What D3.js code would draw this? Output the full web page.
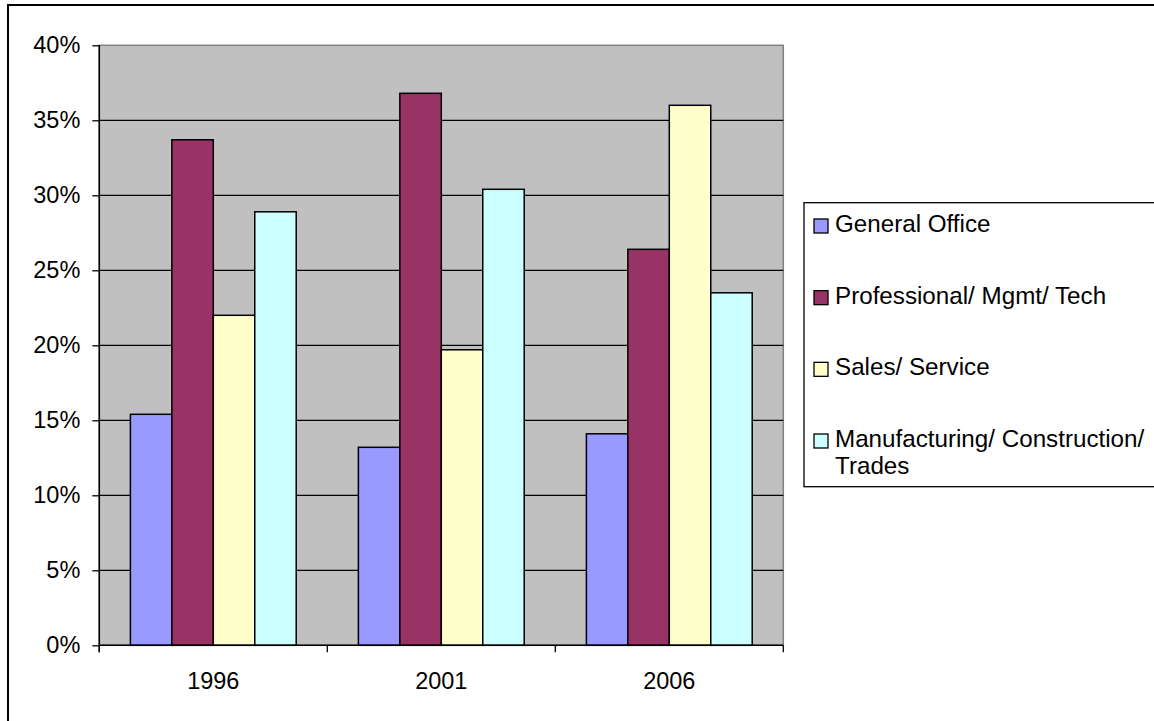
<!DOCTYPE html>
<html>
<head>
<meta charset="utf-8">
<script src="https://cdn.jsdelivr.net/npm/d3@7"></script>
<style>
  html, body { margin: 0; padding: 0; background: #ffffff; }
  svg { display: block; }
  text { font-family: "Liberation Sans", Arial, sans-serif; fill: #000; }
</style>
</head>
<body>
<svg id="chart" width="1154" height="721"></svg>
<script>
// Occupation shares by census year
const years = ["1996", "2001", "2006"];
const seriesNames = [
  "General Office",
  "Professional/ Mgmt/ Tech",
  "Sales/ Service",
  "Manufacturing/ Construction/ Trades"
];
const generalOffice = [15.4, 13.2, 14.1];
const professional = [33.7, 36.8, 26.4];
const salesService = [22.0, 19.7, 36.0];
const manufacturing = [28.9, 30.4, 23.5];
const yTicks = [0, 5, 10, 15, 20, 25, 30, 35, 40];
const seriesColors = ["#9999FF", "#993366", "#FFFFCC", "#CCFFFF"];

const seriesValues = [generalOffice, professional, salesService, manufacturing];

const svg = d3.select("#chart");
const axisFontSize = 23.5;
const legendFontSize = 24.2;

// Chart frame
svg.append("rect")
  .attr("x", 8).attr("y", 5)
  .attr("width", 1200).attr("height", 800)
  .attr("fill", "#fff")
  .attr("stroke", "#000")
  .attr("stroke-width", 2);

// Plot area
const plot = { left: 99.3, right: 783.3, top: 45.3, bottom: 645.3 };

const x = d3.scaleBand().domain(years).range([plot.left, plot.right]).padding(0);
const xInner = d3.scaleBand().domain(d3.range(seriesNames.length))
  .range([0, x.bandwidth()]).paddingInner(0).paddingOuter(0.75);
const y = d3.scaleLinear().domain([0, 40]).range([plot.bottom, plot.top]);

svg.append("rect")
  .attr("x", plot.left).attr("y", plot.top)
  .attr("width", plot.right - plot.left).attr("height", plot.bottom - plot.top)
  .attr("fill", "#C0C0C0")
  .attr("stroke", "#808080")
  .attr("stroke-width", 1.5);

// Horizontal gridlines
svg.append("g")
  .selectAll("line")
  .data(yTicks.filter(d => d > 0 && d < 40))
  .join("line")
  .attr("x1", plot.left).attr("x2", plot.right)
  .attr("y1", d => y(d)).attr("y2", d => y(d))
  .attr("stroke", "#000")
  .attr("stroke-width", 1.3);

// Bars
const groups = svg.append("g")
  .selectAll("g")
  .data(years)
  .join("g")
  .attr("transform", d => `translate(${x(d)},0)`);

groups.selectAll("rect")
  .data((yr, i) => seriesValues.map((vals, s) => ({ s, v: vals[i] })))
  .join("rect")
  .attr("x", d => xInner(d.s))
  .attr("width", xInner.bandwidth())
  .attr("y", d => y(d.v))
  .attr("height", d => y(0) - y(d.v))
  .attr("fill", d => seriesColors[d.s])
  .attr("stroke", "#000")
  .attr("stroke-width", 1.5);

// Y axis
const yAxis = d3.axisLeft(y)
  .tickValues(yTicks)
  .tickFormat(d => d + "%")
  .tickSize(7)
  .tickPadding(12);

const gy = svg.append("g")
  .attr("transform", `translate(${plot.left},0)`)
  .call(yAxis);
gy.select(".domain").remove();
gy.selectAll(".tick line").attr("stroke", "#000").attr("stroke-width", 1.3);
gy.selectAll(".tick text")
  .attr("font-size", axisFontSize)
  .attr("font-family", "Liberation Sans, Arial, sans-serif")
  .attr("fill", "#000");

svg.append("line")
  .attr("x1", plot.left).attr("x2", plot.left)
  .attr("y1", plot.top).attr("y2", plot.bottom + 7)
  .attr("stroke", "#000").attr("stroke-width", 1.5);

// X axis: labels centred on each year, ticks between years
const xAxis = d3.axisBottom(x).tickSize(0).tickPadding(27);
const gx = svg.append("g")
  .attr("transform", `translate(0,${plot.bottom})`)
  .call(xAxis);
gx.select(".domain").remove();
gx.selectAll(".tick text")
  .attr("font-size", axisFontSize)
  .attr("font-family", "Liberation Sans, Arial, sans-serif")
  .attr("fill", "#000");

svg.append("line")
  .attr("x1", plot.left).attr("x2", plot.right)
  .attr("y1", plot.bottom).attr("y2", plot.bottom)
  .attr("stroke", "#000").attr("stroke-width", 1.5);

const boundaries = years.map(d => x(d)).concat([x(years[years.length - 1]) + x.bandwidth()]);
svg.append("g")
  .selectAll("line")
  .data(boundaries)
  .join("line")
  .attr("x1", d => d).attr("x2", d => d)
  .attr("y1", plot.bottom).attr("y2", plot.bottom + 7)
  .attr("stroke", "#000").attr("stroke-width", 1.3);

// Legend
const legend = svg.append("g");
legend.append("rect")
  .attr("x", 804).attr("y", 202.7)
  .attr("width", 400).attr("height", 284)
  .attr("fill", "#fff")
  .attr("stroke", "#000")
  .attr("stroke-width", 1.3);

const legendLines = [
  ["General Office"],
  ["Professional/ Mgmt/ Tech"],
  ["Sales/ Service"],
  ["Manufacturing/ Construction/", "Trades"]
];
const legendBaseline = d3.scaleLinear().domain([0, 3]).range([232, 447]);

const items = legend.selectAll("g.item")
  .data(legendLines)
  .join("g")
  .attr("class", "item");

items.append("rect")
  .attr("x", 814)
  .attr("y", (d, i) => legendBaseline(i) - 13)
  .attr("width", 14).attr("height", 14)
  .attr("fill", (d, i) => seriesColors[i])
  .attr("stroke", "#000")
  .attr("stroke-width", 1.3);

items.append("text")
  .attr("x", 835)
  .attr("y", (d, i) => legendBaseline(i))
  .attr("font-size", legendFontSize)
  .selectAll("tspan")
  .data(d => d)
  .join("tspan")
  .attr("x", 835)
  .attr("dy", (d, j) => j === 0 ? 0 : 27)
  .text(d => d);
</script>
</body>
</html>
